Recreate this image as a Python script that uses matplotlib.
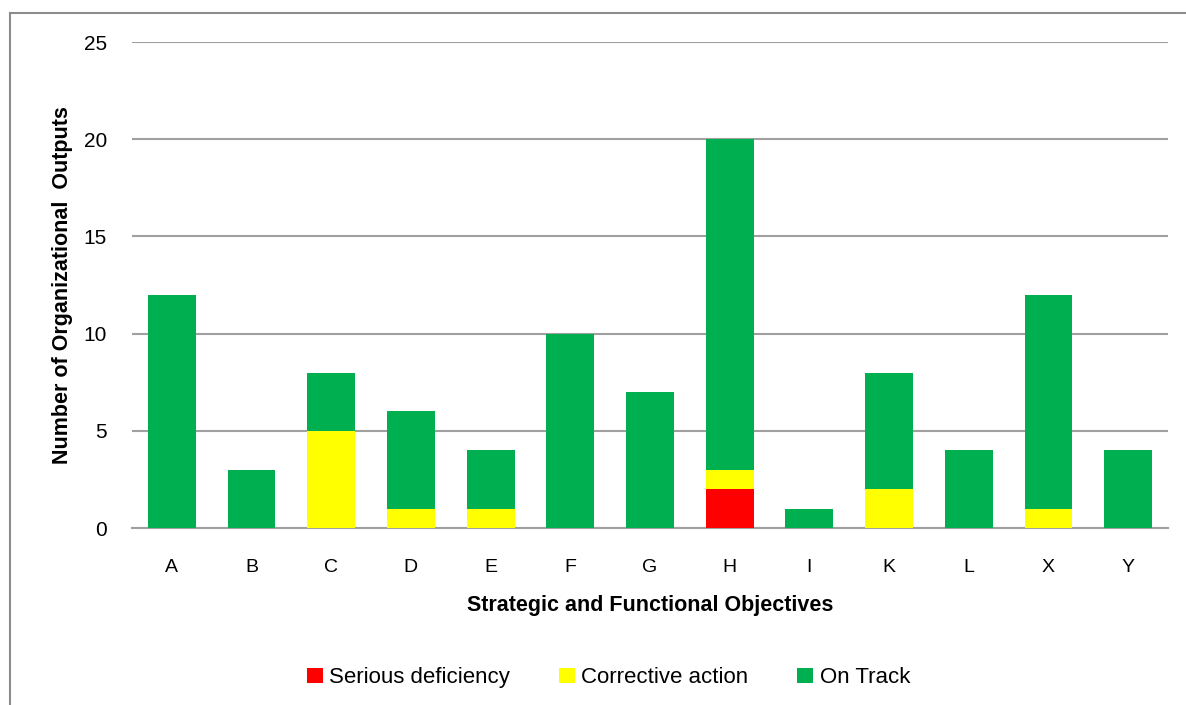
import numpy as np
import matplotlib.pyplot as plt
from matplotlib.lines import Line2D

categories = ['A', 'B', 'C', 'D', 'E', 'F', 'G', 'H', 'I', 'K', 'L', 'X', 'Y']
serious = [0, 0, 0, 0, 0, 0, 0, 2, 0, 0, 0, 0, 0]
corrective = [0, 0, 5, 1, 1, 0, 0, 1, 0, 2, 0, 1, 0]
on_track = [12, 3, 3, 5, 3, 10, 7, 17, 1, 6, 4, 11, 4]

plt.rcParams['font.family'] = ['Liberation Sans', 'DejaVu Sans']

fig = plt.figure(figsize=(11.86, 7.05), dpi=100)
ax = fig.add_axes([0.1113, 0.251, 0.8735, 0.6894])

x = np.arange(len(categories))
s = np.array(serious)
c = np.array(corrective)
o = np.array(on_track)
w = 0.6
ax.bar(x, s, w, color='#FF0000', label='Serious deficiency', zorder=3)
ax.bar(x, c, w, bottom=s, color='#FFFF00', label='Corrective action', zorder=3)
ax.bar(x, o, w, bottom=s + c, color='#00B050', label='On Track', zorder=3)

ax.set_xlim(-0.5, len(categories) - 0.5)
ax.set_ylim(0, 25)
ax.set_yticks(range(0, 26, 5))
ax.set_xticks(x)
ax.set_xticklabels(categories)
ax.yaxis.grid(True, color='#a0a0a0', linewidth=1.5, zorder=0)
for sp in ['top', 'right', 'left']:
    ax.spines[sp].set_visible(False)
ax.spines['bottom'].set_color('#a0a0a0')
ax.spines['bottom'].set_linewidth(1.5)
ax.tick_params(axis='y', length=0, pad=18, labelsize=15)
ax.tick_params(axis='x', length=0, pad=22, labelsize=14)

ax.set_xlabel('Strategic and Functional Objectives', fontsize=15.5, fontweight='bold', labelpad=14)
ax.set_ylabel('Number of Organizational  Outputs', fontsize=15.5, fontweight='bold', labelpad=8)

ax.legend(loc='upper center', bbox_to_anchor=(0.46, -0.245), ncol=3, frameon=False,
          fontsize=16, handlelength=0.7, handleheight=0.7, handletextpad=0.3, columnspacing=2.2)

# outer chart frame
fig.add_artist(Line2D([10 / 1186, 1], [1 - 13 / 705, 1 - 13 / 705], color='#8c8c8c', linewidth=1.5))
fig.add_artist(Line2D([10 / 1186, 10 / 1186], [0, 1 - 13 / 705], color='#8c8c8c', linewidth=1.5))

fig.savefig('out.png', dpi=100)
